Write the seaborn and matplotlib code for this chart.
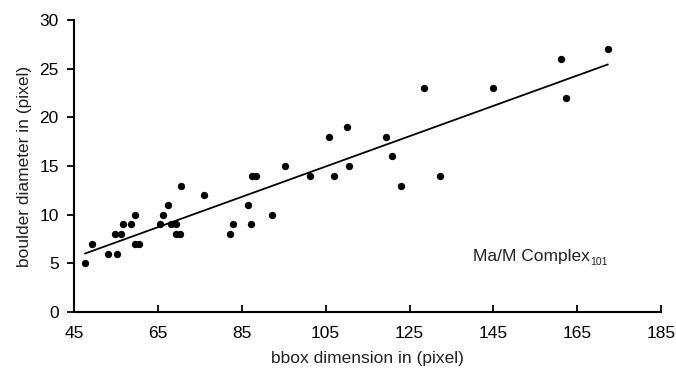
import numpy as np
import pandas as pd
import seaborn as sns
import matplotlib.pyplot as plt

# bbox dimension (x) vs boulder diameter (y)
bbox_dim = [47.6, 49.3, 53.2, 55.2, 54.8, 56.3, 56.7, 58.6, 59.5, 59.6, 60.5,
            65.6, 66.3, 67.5, 68.1, 69.4, 69.2, 70.3, 70.5, 75.9, 82.2, 82.9,
            86.6, 87.1, 87.4, 88.5, 92.3, 95.2, 101.3, 105.9, 106.9, 110.2,
            110.6, 119.5, 120.8, 123.0, 128.5, 132.3, 144.9, 161.1, 162.2, 172.3]
boulder_diam = [5, 7, 6, 6, 8, 8, 9, 9, 10, 7, 7,
                9, 10, 11, 9, 9, 8, 8, 13, 12, 8, 9,
                11, 9, 14, 14, 10, 15, 14, 18, 14, 19,
                15, 18, 16, 13, 23, 14, 23, 26, 22, 27]

x_ticks = [45, 65, 85, 105, 125, 145, 165, 185]
y_ticks = [0, 5, 10, 15, 20, 25, 30]

df = pd.DataFrame({"bbox": bbox_dim, "diam": boulder_diam})

sns.set_style("ticks")
plt.rcParams["font.family"] = ["Liberation Sans", "DejaVu Sans"]
plt.rcParams["mathtext.default"] = "regular"

fig = plt.figure(figsize=(6.76, 3.69), dpi=100)
ax = fig.add_axes([0.1095, 0.154, 0.8685, 0.792])

sns.regplot(data=df, x="bbox", y="diam", ax=ax, ci=None, color="black",
            scatter_kws={"s": 28, "linewidths": 0, "alpha": 1},
            line_kws={"lw": 1.3})

ax.set_xlim(45, 185)
ax.set_ylim(0, 30)
ax.set_xticks(x_ticks)
ax.set_yticks(y_ticks)
ax.tick_params(axis="x", direction="in", length=5, width=1.3, labelsize=12.5,
               pad=10, colors="black")
ax.tick_params(axis="y", direction="out", length=5, width=1.3, labelsize=12.5,
               pad=6, colors="black")
for s in ["top", "right"]:
    ax.spines[s].set_visible(False)
for s in ["left", "bottom"]:
    ax.spines[s].set_color("black")
    ax.spines[s].set_linewidth(1.5)

ax.set_xlabel("bbox dimension in (pixel)", fontsize=12.5, labelpad=7, color="#222222")
ax.set_ylabel("boulder diameter in (pixel)", fontsize=12.5, labelpad=5, color="#222222")
label = ax.text(0.68, 0.19, "Ma/M Complex", transform=ax.transAxes,
                fontsize=12.5, va="center", color="#222222")
ax.annotate("101", xy=(1, 0), xycoords=label, xytext=(0.3, 1.5),
            textcoords="offset points", fontsize=7.5, va="center",
            color="#222222")

fig.savefig("out.png", dpi=100)
